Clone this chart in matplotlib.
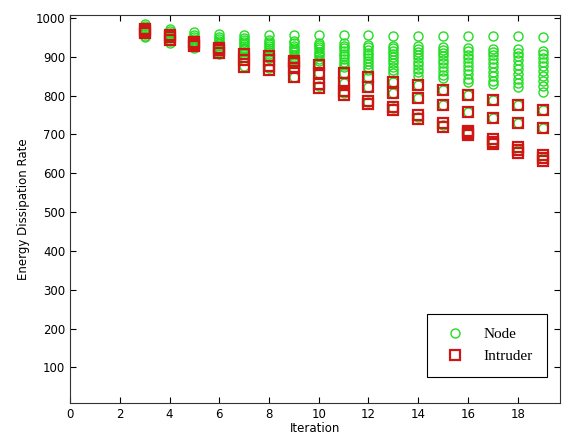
import matplotlib
matplotlib.use("Agg")
import matplotlib.pyplot as plt

# energy dissipation rate per iteration
iterations = list(range(3, 20))

node_vals = [
    [984, 980, 975, 971, 967, 963, 959, 955, 951],
    [971, 967, 962, 957, 953, 948, 944, 940, 936],
    [963, 957, 952, 947, 942, 938, 933, 928, 924],
    [958, 952, 947, 942, 937, 932, 927, 922, 917, 912, 908],
    [957, 949, 944, 939, 934, 929, 924, 919, 913, 907, 900, 892, 876],
    [957, 944, 939, 934, 929, 924, 918, 913, 908, 902, 897, 871],
    [957, 940, 935, 929, 923, 918, 912, 906, 900, 894, 887, 871, 848],
    [957, 937, 931, 925, 919, 913, 907, 901, 895, 889, 879, 858, 825],
    [957, 935, 929, 922, 915, 908, 901, 894, 887, 880, 873, 858, 832, 807],
    [956, 931, 925, 918, 911, 904, 897, 890, 882, 874, 866, 848, 822, 783],
    [955, 929, 922, 915, 907, 899, 891, 883, 875, 867, 858, 835, 807, 768],
    [955, 927, 920, 912, 904, 896, 887, 878, 869, 860, 850, 827, 794, 745],
    [955, 925, 917, 909, 901, 892, 883, 873, 863, 853, 845, 814, 776, 724],
    [955, 923, 915, 906, 897, 887, 877, 866, 855, 844, 835, 801, 758, 704],
    [953, 921, 913, 904, 894, 884, 873, 862, 850, 838, 829, 789, 742, 681],
    [953, 919, 910, 901, 891, 880, 868, 856, 844, 832, 823, 776, 729, 660],
    [952, 916, 907, 897, 887, 876, 864, 851, 838, 824, 810, 763, 716, 639],
]

intruder_vals = [
    [961, 966, 971],
    [944, 950, 956],
    [927, 933, 939],
    [910, 917, 924],
    [874, 892, 907],
    [866, 876, 892, 901],
    [848, 871, 883, 890],
    [821, 829, 858, 879],
    [803, 811, 832, 858],
    [779, 787, 822, 848],
    [764, 772, 807, 835],
    [740, 750, 794, 827],
    [719, 729, 776, 814],
    [698, 704, 710, 758, 801],
    [675, 681, 688, 742, 789],
    [653, 660, 667, 729, 776],
    [631, 639, 647, 716, 763],
]

fig = plt.figure(figsize=(5.65, 4.4), dpi=100)
ax = fig.add_axes([0.124, 0.084, 0.867, 0.882])

for i, k in enumerate(iterations):
    ax.plot([k] * len(node_vals[i]), node_vals[i], 'o', mfc='none', mec='#22dd22',
            ms=6.5, mew=1.0, label='Node' if i == 0 else None)
for i, k in enumerate(iterations):
    ax.plot([k] * len(intruder_vals[i]), intruder_vals[i], 's', mfc='none', mec='#d01515',
            ms=6.8, mew=1.6, label='Intruder' if i == 0 else None)

ax.set_xlim(0, 19.7)
ax.set_ylim(8, 1008)
ax.set_xticks(range(0, 20, 2))
ax.set_yticks(range(100, 1001, 100))
ax.tick_params(direction='in', top=True, right=True, labelsize=8.5, length=4, width=0.8)
for s in ax.spines.values():
    s.set_linewidth(0.8)
    s.set_color('#333333')

ax.set_xlabel('Iteration', fontsize=8.5, labelpad=1)
ax.set_ylabel('Energy Dissipation Rate', fontsize=8.5, labelpad=4)

leg = ax.legend(loc='lower right', bbox_to_anchor=(0.973, 0.067), borderaxespad=0,
                prop={'family': 'Liberation Serif', 'size': 11}, fancybox=False,
                edgecolor='black', framealpha=1, borderpad=0.9, labelspacing=0.55,
                handletextpad=1.0, handlelength=1.8)
leg.get_frame().set_linewidth(0.8)

fig.savefig('out.png', dpi=100)
